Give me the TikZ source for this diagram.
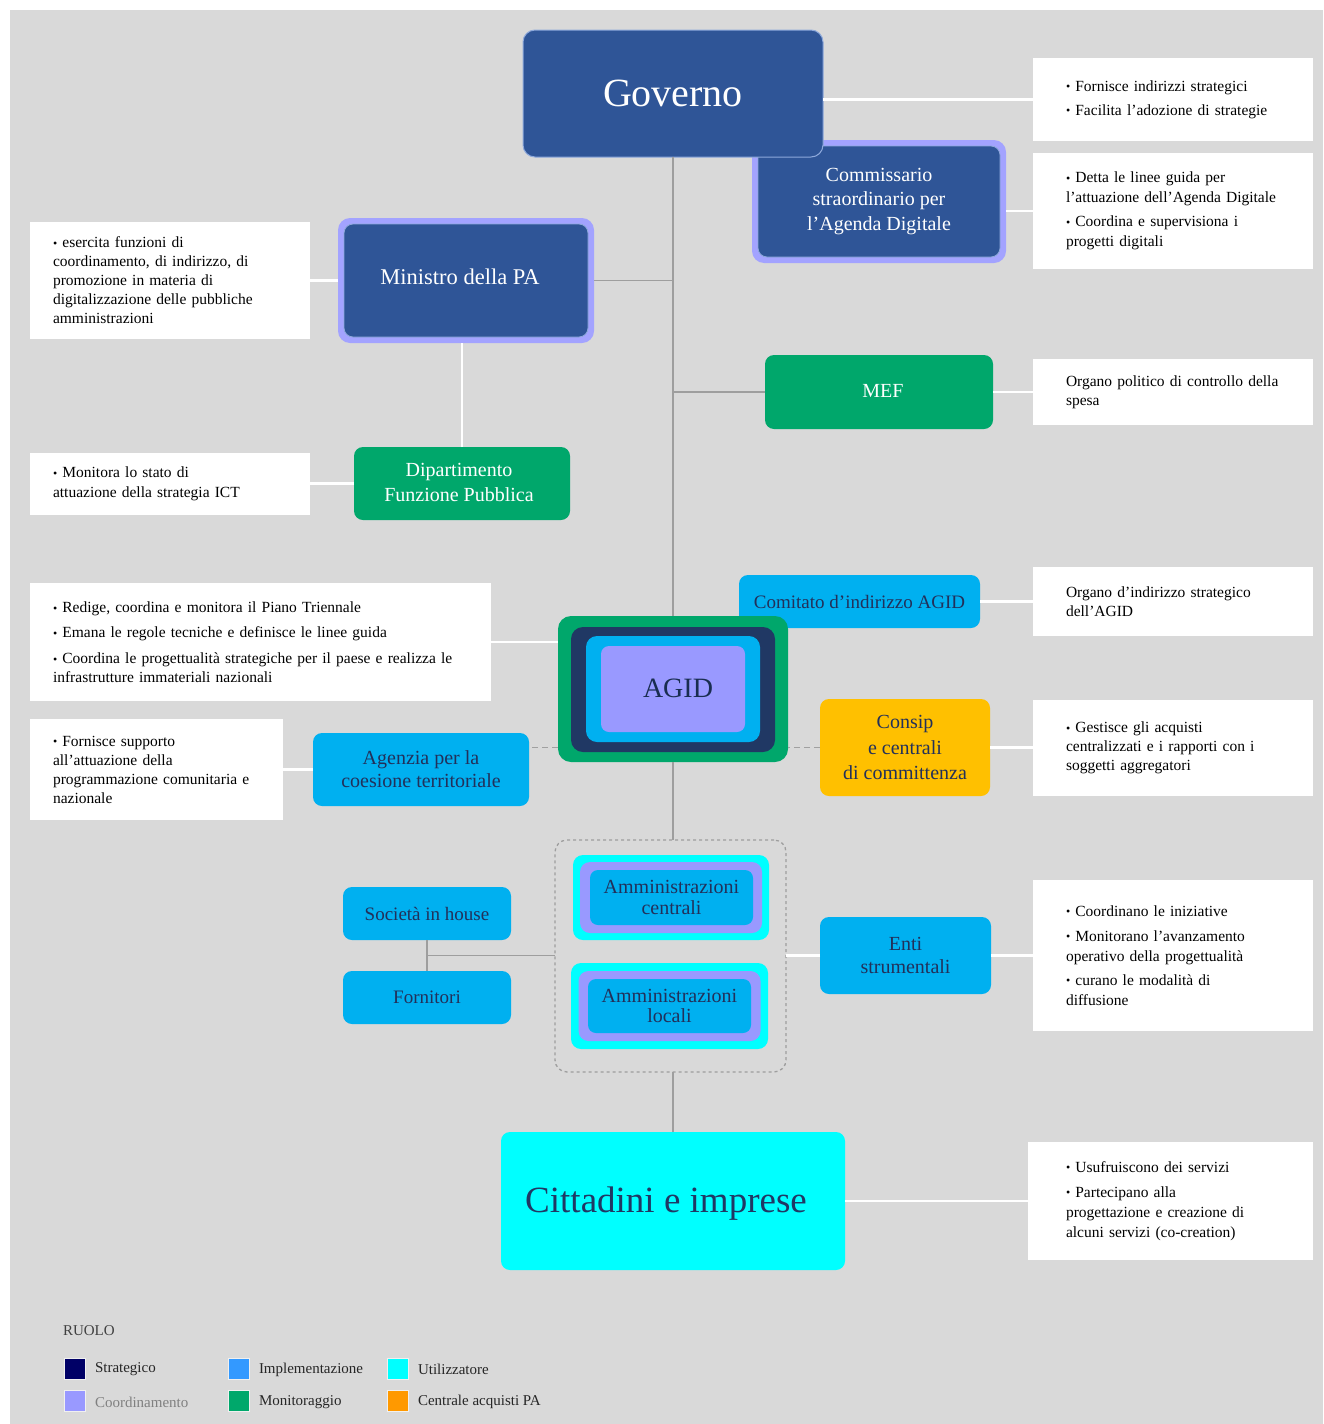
\documentclass[tikz,border=0pt]{standalone}
\usepackage{fontspec}
\setmainfont{Liberation Serif}
\definecolor{bg}{HTML}{D9D9D9}
\definecolor{govblue}{HTML}{2F5597}
\definecolor{govedge}{HTML}{8EA9DB}
\definecolor{lav}{HTML}{9999FF}
\definecolor{lavedge}{HTML}{A3A3FF}
\definecolor{mgreen}{HTML}{00A76B}
\definecolor{iblue}{HTML}{00B0F0}
\definecolor{navy}{HTML}{203864}
\definecolor{cyanc}{HTML}{00FFFF}
\definecolor{yel}{HTML}{FFC000}
\definecolor{dtext}{HTML}{22305A}
\definecolor{lgray}{HTML}{9E9E9E}
\definecolor{dgray}{HTML}{A0A0A0}
\definecolor{lgStr}{HTML}{000066}
\definecolor{lgImp}{HTML}{3399FF}
\definecolor{lgUti}{HTML}{00FFFF}
\definecolor{lgCoo}{HTML}{9999FF}
\definecolor{lgMon}{HTML}{00A86B}
\definecolor{lgCen}{HTML}{FF9900}
\newcommand{\bl}{{\fontsize{12}{12}\selectfont\raisebox{0.5pt}{•}}\ }
\begin{document}
\begin{tikzpicture}[x=1pt,y=-1pt,
  every node/.style={inner sep=0pt, outer sep=0pt},
  base/.style={rounded corners=9pt, align=center},
  dkbox/.style={base, fill=govblue, text=white, font=\fontsize{20}{24.5}\selectfont},
  grbox/.style={base, fill=mgreen, text=white, font=\fontsize{20}{25}\selectfont},
  blbox/.style={base, fill=iblue, text=dtext, font=\fontsize{20}{23}\selectfont},
  wbox/.style={fill=white, align=left, text=black, font=\fontsize{15.5}{20}\selectfont},
  wR/.style={wbox, minimum width=280, text width=214, inner xsep=33},
  wL/.style={wbox, minimum width=280, text width=234, inner xsep=23},
  gline/.style={draw=lgray, line width=1.5pt},
  wline/.style={draw=white, line width=2.5pt},
  dline/.style={draw=dgray, line width=1.3pt, dash pattern=on 6pt off 4pt},
  lsq/.style={minimum width=21, minimum height=21, draw=white!60!bg, line width=0.5pt},
  ltxt/.style={anchor=west, text=black!85, font=\fontsize{15}{15}\selectfont}
]
\useasboundingbox (0,0) rectangle (1323,1424);
\fill[white] (0,0) rectangle (1323,1424);
\fill[bg] (10,10) rectangle (1323,1424);

% ---------- top area ----------
\node[base, fill=lavedge, minimum width=254, minimum height=123, rounded corners=12pt] (commO) at (879,201.5) {};
\node[dkbox, draw=govedge, line width=0.8pt, minimum width=242, minimum height=111] (comm) at (879,201.5) {Commissario\\straordinario per\\l’Agenda Digitale};
\node[base, fill=govblue, draw=govedge, line width=1pt, minimum width=300, minimum height=127, rounded corners=12pt, text=white, font=\fontsize{40}{40}\selectfont] (governo) at (673,93.5) {Governo};

\node[base, fill=lavedge, minimum width=256, minimum height=125, rounded corners=12pt] (minO) at (466,280.5) {};
\node[base, fill=govblue, draw=govedge, line width=0.8pt, minimum width=244, minimum height=113] (minI) at (466,280.5) {};
\node[text=white, font=\fontsize{22.5}{24}\selectfont] (minT) at (460,277) {Ministro della PA};

\node[grbox, minimum width=216, minimum height=73] (dip) at (462,483.5) {};
\node[text=white, font=\fontsize{20}{25}\selectfont, align=center] (dipT) at (459,482) {Dipartimento\\Funzione Pubblica};
\node[grbox, minimum width=228, minimum height=74] (mef) at (879,392) {};
\node[text=white, font=\fontsize{20}{20}\selectfont] (mefT) at (883,391) {MEF};

% ---------- AGID area ----------
\node[blbox, minimum width=241, minimum height=53, font=\fontsize{19}{19}\selectfont] (comitato) at (859.5,601.5) {Comitato d’indirizzo AGID};
\node[base, fill=mgreen, minimum width=230, minimum height=146, rounded corners=13pt] (agidO) at (673,689) {};
\node[base, fill=navy, minimum width=204, minimum height=125, rounded corners=12pt] (agidN) at (673,689.5) {};
\node[base, fill=iblue, minimum width=174, minimum height=106, rounded corners=11pt] (agidB) at (673,689) {};
\node[base, fill=lav, minimum width=144, minimum height=86, rounded corners=8pt] (agidL) at (673,689) {};
\node[text=navy!80!black, font=\fontsize{28}{28}\selectfont] (agid) at (678,688) {AGID};

\node[blbox, minimum width=216, minimum height=73] (agenzia) at (421,769.5) {Agenzia per la\\coesione territoriale};
\node[base, fill=yel, minimum width=170, minimum height=97, text=dtext, font=\fontsize{20}{25.5}\selectfont] (consip) at (905,747.5) {Consip\\e centrali\\di committenza};

% ---------- amministrazioni ----------
\node[draw=lgray, line width=1.3pt, dash pattern=on 3pt off 3pt, rounded corners=12pt, minimum width=231, minimum height=232] (grp) at (670.5,956) {};
\node[base, fill=cyanc, minimum width=196, minimum height=85, rounded corners=10pt] (acC) at (671,897.5) {};
\node[base, fill=lav, minimum width=182, minimum height=71, rounded corners=10pt] (acL) at (671,897.5) {};
\node[blbox, minimum width=163, minimum height=55, rounded corners=8pt, font=\fontsize{20}{21.5}\selectfont] (ac) at (671.5,897.5) {Amministrazioni\\centrali};
\node[base, fill=cyanc, minimum width=197, minimum height=86, rounded corners=10pt] (alC) at (669.5,1006) {};
\node[base, fill=lav, minimum width=182, minimum height=70, rounded corners=10pt] (alL) at (669.5,1006) {};
\node[blbox, minimum width=163, minimum height=54, rounded corners=8pt, font=\fontsize{20}{20}\selectfont] (al) at (669.5,1006) {Amministrazioni\\locali};

\node[blbox, minimum width=168, minimum height=53, font=\fontsize{19}{19}\selectfont] (soc) at (427,913.5) {Società in house};
\node[blbox, minimum width=168, minimum height=53, font=\fontsize{19}{19}\selectfont] (forn) at (427,997.5) {Fornitori};
\node[blbox, minimum width=171, minimum height=77] (enti) at (905.5,955.5) {Enti\\strumentali};

\node[base, fill=cyanc, minimum width=344, minimum height=138] (citt) at (673,1201) {};
\node[text=navy, font=\fontsize{37}{37}\selectfont] (cittT) at (666,1204) {Cittadini e imprese};

% ---------- white text boxes ----------
\node[wR, minimum height=83] (t1) at (1173,99.5) {\bl Fornisce indirizzi strategici\\[4pt]\bl Facilita l’adozione di strategie};
\node[wR, minimum height=116] (t2) at (1173,211) {\bl Detta le linee guida per\\ l’attuazione dell’Agenda Digitale\\[4pt]\bl Coordina e supervisiona i\\ progetti digitali};
\node[wL, minimum height=117, font=\fontsize{15.5}{19}\selectfont] (t3) at (170,280.5) {\bl esercita funzioni di\\ coordinamento, di indirizzo, di\\ promozione in materia di\\ digitalizzazione delle pubbliche\\ amministrazioni};
\node[wL, minimum height=62] (t4) at (170,484) {\bl Monitora lo stato di\\ attuazione della strategia ICT};
\node[wR, minimum height=66, font=\fontsize{15.5}{19}\selectfont] (t5) at (1173,392) {Organo politico di controllo della\\ spesa};
\node[wR, minimum height=69, font=\fontsize{15.5}{19}\selectfont] (t6) at (1173,601.5) {Organo d’indirizzo strategico\\ dell’AGID};
\node[wbox, minimum width=461, text width=415, inner xsep=23, minimum height=118, font=\fontsize{15.5}{18.5}\selectfont] (t7) at (260.5,642) {\bl Redige, coordina e monitora il Piano Triennale\\[6.5pt]\bl Emana le regole tecniche e definisce le linee guida\\[7.5pt]\bl Coordina le progettualità strategiche per il paese e realizza le\\ infrastrutture immateriali nazionali};
\node[wbox, minimum width=253, text width=207, inner xsep=23, minimum height=101, font=\fontsize{15.5}{19}\selectfont] (t8) at (156.5,769.5) {\bl Fornisce supporto\\ all’attuazione della\\ programmazione comunitaria e\\ nazionale};
\node[wR, minimum height=96, font=\fontsize{15.5}{19}\selectfont] (t9) at (1173,748) {\bl Gestisce gli acquisti\\ centralizzati e i rapporti con i\\ soggetti aggregatori};
\node[wR, minimum height=151] (t10) at (1173,955.5) {\bl Coordinano le iniziative\\[5pt]\bl Monitorano l’avanzamento\\ operativo della progettualità\\[4pt]\bl curano le modalità di\\ diffusione};
\node[wbox, minimum width=285, text width=209, inner xsep=38, minimum height=118] (t11) at (1170.5,1201) {\bl Usufruiscono dei servizi\\[5pt]\bl Partecipano alla\\ progettazione e creazione di\\ alcuni servizi (co-creation)};

% ---------- connectors ----------
\draw[gline] (governo.south) -- (agidO.north);
\draw[gline] (minO.east) -- (minO.east -| governo.south);
\draw[gline] (mef.west) -- (mef.west -| governo.south);
\draw[gline] (agidO.south) -- (agidO.south |- grp.north);
\draw[gline] (citt.north) -- (citt.north |- grp.south);
\draw[gline] (soc.south) -- (forn.north) coordinate[midway] (j);
\draw[gline] (j) -- (j -| grp.west);

\draw[wline] (t1.west) -- (t1.west -| governo.east);
\draw[wline] (t2.west) -- (t2.west -| commO.east);
\draw[wline] (minO.west) -- (minO.west -| t3.east);
\draw[wline] (dip.north) -- (dip.north |- minO.south);
\draw[wline] (dip.west) -- (dip.west -| t4.east);
\draw[wline] (mef.east) -- (mef.east -| t5.west);
\draw[wline] (comitato.east) -- (comitato.east -| t6.west);
\draw[wline] (t7.east) -- (t7.east -| agidO.west);
\draw[wline] (agenzia.west) -- (agenzia.west -| t8.east);
\draw[wline] (consip.east) -- (consip.east -| t9.west);
\draw[wline] (enti.west) -- (enti.west -| grp.east);
\draw[wline] (enti.east) -- (enti.east -| t10.west);
\draw[wline] (citt.east) -- (citt.east -| t11.west);

\draw[dline] (consip.west) -- (consip.west -| agidO.east);
\draw[dline] (agidO.west |- consip.west) -- (consip.west -| agenzia.east);

% ---------- legend ----------
\node[anchor=west, text=black!75, font=\fontsize{15}{15}\selectfont] (ruolo) at (63,1331) {RUOLO};
\node[lsq, fill=lgStr] (q1) at (74.5,1368.5) {};
\node[ltxt] (q1t) at (95,1369.5) {Strategico};
\node[lsq, fill=lgImp] (q2) at (239,1368.5) {};
\node[ltxt] (q2t) at (259,1369.5) {Implementazione};
\node[lsq, fill=lgUti] (q3) at (398,1368.5) {};
\node[ltxt] (q3t) at (418,1369.5) {Utilizzatore};
\node[lsq, fill=lgCoo] (q4) at (74.5,1401) {};
\node[ltxt, text=black!50] (q4t) at (95,1402) {Coordinamento};
\node[lsq, fill=lgMon] (q5) at (239,1401) {};
\node[ltxt] (q5t) at (259,1402) {Monitoraggio};
\node[lsq, fill=lgCen] (q6) at (398,1401) {};
\node[ltxt] (q6t) at (418,1402) {Centrale acquisti PA};
\end{tikzpicture}
\end{document}
